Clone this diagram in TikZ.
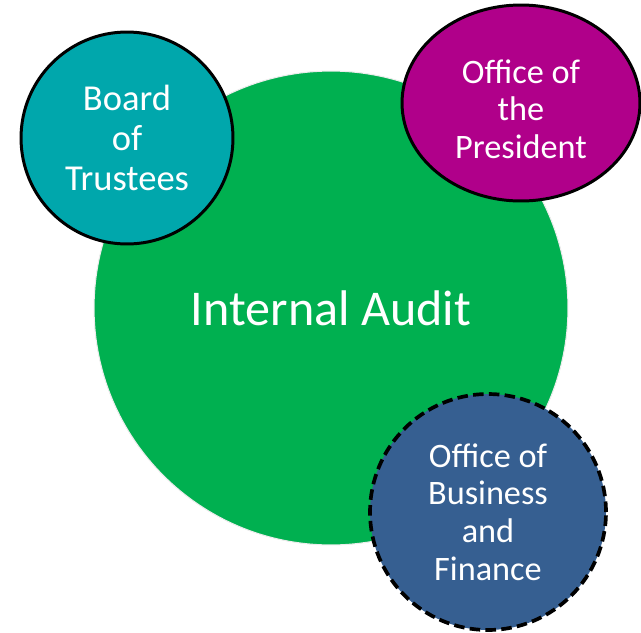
\documentclass[tikz,border=0pt]{standalone}
\usepackage{fontspec}
\setmainfont{Carlito}
\usepackage{tikz}
\usetikzlibrary{shapes.geometric, positioning}
\definecolor{auditgreen}{RGB}{0, 176, 80}
\definecolor{boardteal}{RGB}{0, 167, 172}
\definecolor{presmagenta}{RGB}{176, 0, 138}
\definecolor{finblue}{RGB}{54, 95, 145}
\tikzset{
  office/.style={draw=black, line width=1.7pt, text=white, align=center, inner sep=0pt,
    font=\fontsize{19.5}{21.5}\selectfont}
}

\begin{document}
\begin{tikzpicture}[x=0.02cm, y=-0.02cm]
  \useasboundingbox (0, 0) rectangle (641, 632);

  % Central unit
  \node[circle, fill=auditgreen, draw=gray!15, line width=0.6pt, minimum size=9.48cm, text=white,
    font=\fontsize{28.5}{32}\selectfont] (audit) at (331, 308) {Internal Audit};

  % Board of Trustees
  \node[office, circle, fill=boardteal, minimum size=4.24cm,
    font=\fontsize{20.8}{22.8}\selectfont] (board) at (127, 138) {Board\\of\\Trustees};

  % Office of the President (first line strut pushes the text a bit lower)
  \node[office, ellipse, fill=presmagenta, minimum width=4.76cm, minimum height=3.92cm] (pres) at (521, 103)
    {\rule{0pt}{20.5pt}Office of\\the\\President};

  % Office of Business and Finance
  \node[office, circle, line width=2.1pt, dash pattern=on 6pt off 3pt, fill=finblue, minimum size=4.72cm] (fin) at (488, 512)
    {Office of\\Business\\and\\Finance};
\end{tikzpicture}
\end{document}
